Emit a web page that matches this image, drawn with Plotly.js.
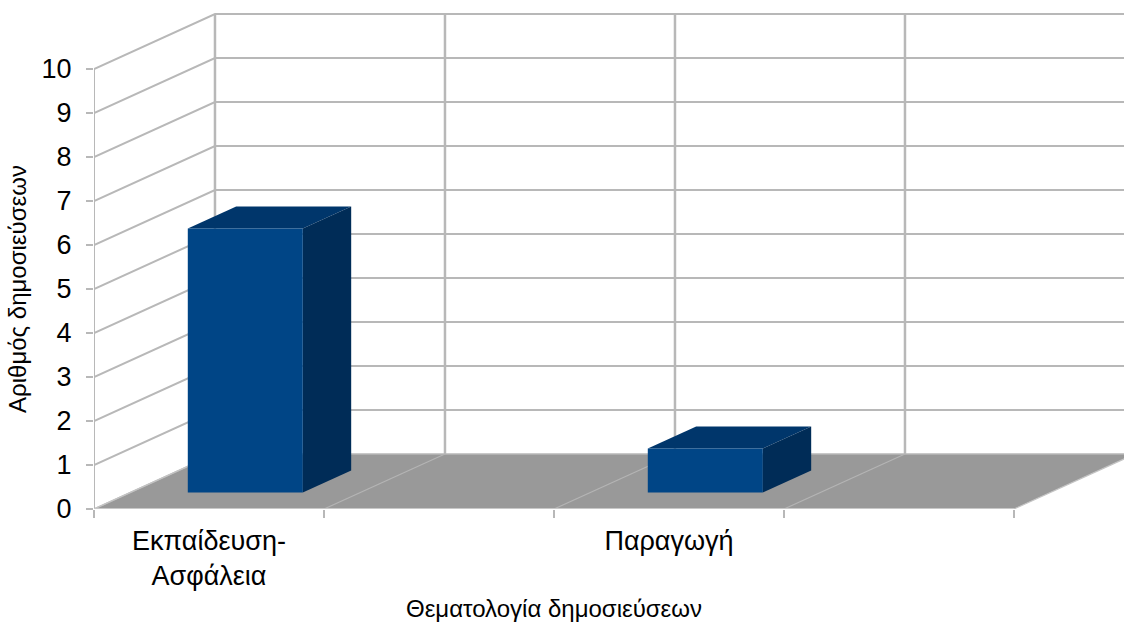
<!DOCTYPE html>
<html>
<head>
<meta charset="utf-8">
<script src="https://cdn.plot.ly/plotly-3.0.1.min.js"></script>
<style>html,body{margin:0;padding:0;background:#fff}#chart{width:1124px;height:623px}</style>
</head>
<body>
<div id="chart"></div>
<script>
// Publications per topic
const categories = ["Εκπαίδευση-<br>Ασφάλεια", "", "Παραγωγή", ""];
const publications = [6, null, 1, null];
const valueTicks = [0, 1, 2, 3, 4, 5, 6, 7, 8, 9, 10];
const xTitle = "Θεματολογία δημοσιεύσεων";
const yTitle = "Αριθμός δημοσιεύσεων";

// Oblique projection: depth d (0 front, 1 back) shifts a point right and up
const DEPTH_X = 0.526, DEPTH_Y = 1.25;
const BAR_WIDTH = 0.5, BAR_D0 = 0.3, BAR_D1 = 0.7;
const project = (x, v, d) => [x + d * DEPTH_X, v + d * DEPTH_Y];

const GRID = "#b8b8b8";
const MAX_V = 10, N = categories.length;

// Pixel sizes of the front plane and of the whole drawing area
const PLOT_W = 1030, PLOT_H = 509, FRONT_W = 920, FRONT_H = 440;

function poly(points, fill, name) {
  const p = points.map(q => project(q[0], q[1], q[2]));
  return {
    type: "scatter", mode: "lines", name, xaxis: "x2", yaxis: "y2",
    x: p.map(q => q[0]).concat(p[0][0]),
    y: p.map(q => q[1]).concat(p[0][1]),
    fill: "toself", fillcolor: fill, line: {width: 0}, hoverinfo: "skip", showlegend: false
  };
}
function line(points, width, color) {
  const p = points.map(q => project(q[0], q[1], q[2]));
  return {
    type: "scatter", mode: "lines", xaxis: "x2", yaxis: "y2",
    x: p.map(q => q[0]), y: p.map(q => q[1]),
    line: {width, color}, hoverinfo: "skip", showlegend: false
  };
}

const traces = [];
// Carries the visible axes, which span the front plane only
traces.push({
  type: "scatter", mode: "none", showlegend: false, hoverinfo: "skip",
  x: categories.map((c, i) => i + 0.5), y: publications
});
// Floor
traces.push(poly([[0, 0, 0], [N, 0, 0], [N, 0, 1], [0, 0, 1]], "#999999", "floor"));
// Back wall and side wall grid
for (const v of valueTicks) {
  traces.push(line([[0, v, 0], [0, v, 1], [N, v, 1]], v === 0 ? 1.5 : 2, GRID));
}
for (let i = 0; i <= N; i++) {
  traces.push(line([[i, 0, 1], [i, MAX_V, 1]], 2.5, GRID));
  traces.push(line([[i, 0, 0], [i, 0, 1]], 1.2, i === 0 || i === N ? "#c4c4c4" : "#b4b4b4"));
}
// Front edges of the chart box
traces.push(line([[0, 0, 0], [0, MAX_V, 0]], 2, GRID));
traces.push(line([[0, 0, 0], [N, 0, 0]], 2, "#c8c8c8"));

// Bars as three visible faces
publications.forEach((v, i) => {
  if (v === null) return;
  const a = i + 0.5 - BAR_WIDTH / 2, b = a + BAR_WIDTH;
  traces.push(poly([[a, v, BAR_D0], [b, v, BAR_D0], [b, v, BAR_D1], [a, v, BAR_D1]], "#00366b", "top"));
  traces.push(poly([[b, 0, BAR_D0], [b, v, BAR_D0], [b, v, BAR_D1], [b, 0, BAR_D1]], "#002c57", "side"));
  traces.push(poly([[a, 0, BAR_D0], [b, 0, BAR_D0], [b, v, BAR_D0], [a, v, BAR_D0]], "#004586", "front"));
});

const layout = {
  width: 1124, height: 623,
  margin: {l: 94, r: 0, t: 0, b: 114},
  paper_bgcolor: "#fff", plot_bgcolor: "rgba(0,0,0,0)",
  font: {family: "Liberation Sans, Arial, sans-serif", color: "#000"},
  showlegend: false,
  xaxis: {
    domain: [0, FRONT_W / PLOT_W],
    range: [0, N],
    showgrid: false, zeroline: false, showline: false,
    tickmode: "array",
    tickvals: categories.map((c, i) => i + 0.5),
    ticktext: categories,
    ticks: "", ticklen: 0,
    tickfont: {size: 27},
    ticklabelstandoff: 13,
    minor: {tickmode: "array", tickvals: [0, 1, 2, 3, 4], ticks: "outside", ticklen: 8, tickwidth: 1.5, tickcolor: GRID, showgrid: false},
    title: {text: xTitle, font: {size: 24}, standoff: 10},
    automargin: false
  },
  yaxis: {
    domain: [0, FRONT_H / PLOT_H],
    range: [0, MAX_V],
    showgrid: false, zeroline: false, showline: false,
    tickmode: "array", tickvals: valueTicks,
    ticks: "outside", ticklen: 7, tickwidth: 1.5, tickcolor: GRID,
    tickfont: {size: 27},
    ticklabelstandoff: 9,
    title: {text: yTitle, font: {size: 24}, standoff: 8},
    automargin: false
  },
  // Hidden axes for the projected geometry, same scale as the visible ones
  xaxis2: {domain: [0, 1], range: [0, N * PLOT_W / FRONT_W], anchor: "y2", visible: false},
  yaxis2: {domain: [0, 1], range: [0, MAX_V * PLOT_H / FRONT_H], anchor: "x2", visible: false}
};

Plotly.newPlot("chart", traces, layout, {displayModeBar: false, staticPlot: true});
</script>
</body>
</html>
